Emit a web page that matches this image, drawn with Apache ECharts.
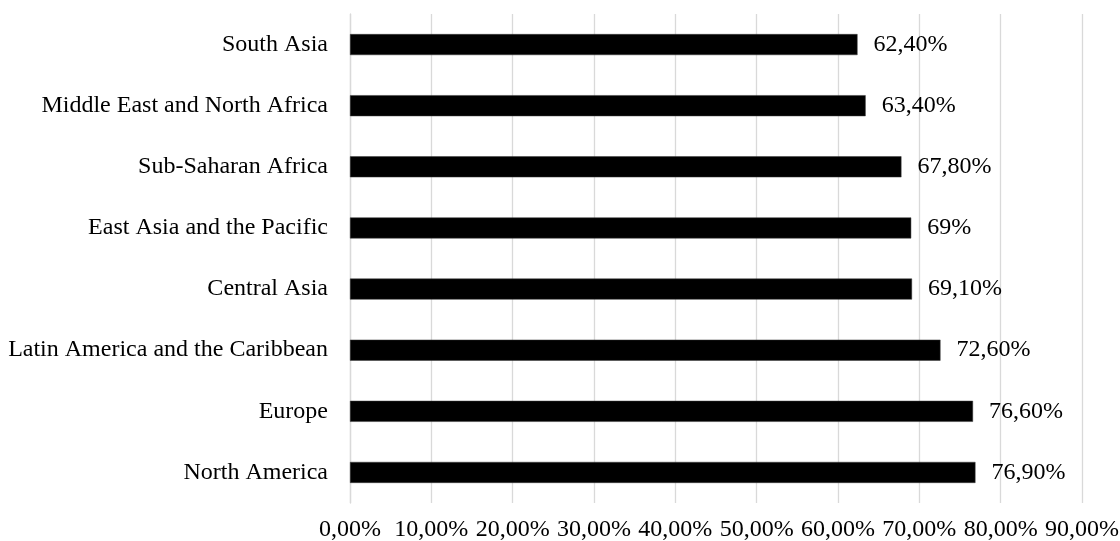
<!DOCTYPE html>
<html>
<head>
<meta charset="utf-8">
<script src="https://cdn.jsdelivr.net/npm/echarts@6/dist/echarts.min.js"></script>
<style>html,body{margin:0;padding:0;background:#fff}#c{width:1120px;height:541px}</style>
</head>
<body>
<div id="c"></div>
<script>
const categories = ["South Asia","Middle East and North Africa","Sub-Saharan Africa","East Asia and the Pacific","Central Asia","Latin America and the Caribbean","Europe","North America"];
const values = [62.4, 63.4, 67.8, 69, 69.1, 72.6, 76.6, 76.9];
const valueLabels = ["62,40%","63,40%","67,80%","69%","69,10%","72,60%","76,60%","76,90%"];
const axisMin = 0, axisMax = 90, axisStep = 10;

const font = "'Liberation Serif', 'Times New Roman', serif";
const chart = echarts.init(document.getElementById('c'), null, {renderer:'canvas'});
chart.setOption({
  animation:false,
  backgroundColor:'#fff',
  grid:{left:350, right:38, top:14, bottom:38, containLabel:false, outerBoundsMode:'none'},
  xAxis:{
    type:'value', min:axisMin, max:axisMax, interval:axisStep,
    axisLine:{show:false}, axisTick:{show:false},
    splitLine:{show:true, lineStyle:{color:'#d9d9d9', width:1.3}},
    axisLabel:{margin:15, color:'#000', fontFamily:font, fontSize:24,
      formatter:v=>v.toFixed(2).replace('.',',')+'%'}
  },
  yAxis:{
    type:'category', data:categories, inverse:true,
    axisLine:{show:true, lineStyle:{color:'#d9d9d9', width:1.3}},
    axisTick:{show:false},
    axisLabel:{margin:22, color:'#000', fontFamily:font, fontSize:24}
  },
  series:[{
    type:'bar', data:values, barWidth:21,
    itemStyle:{color:'#000', borderColor:'#3a3a3a', borderWidth:0.5},
    label:{show:true, position:'right', distance:16, color:'#000', fontFamily:font, fontSize:24,
      formatter:p=>valueLabels[p.dataIndex]}
  }]
});
</script>
</body>
</html>
